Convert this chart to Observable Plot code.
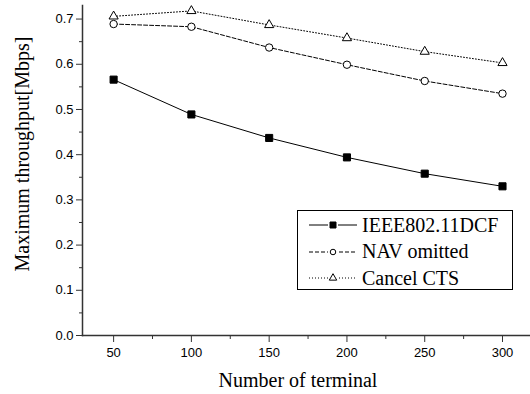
<!DOCTYPE html>
<html>
<head>
<meta charset="utf-8">
<script src="https://cdn.jsdelivr.net/npm/d3@7"></script>
<script src="https://cdn.jsdelivr.net/npm/@observablehq/plot@0.6"></script>
<style>
  html, body { margin: 0; padding: 0; background: #fff; }
  #wrap { position: relative; width: 530px; height: 394px; }
  #legend { position: absolute; left: 297px; top: 210px; width: 216px; height: 80px;
    border: 1px solid #000; background: #fff; box-sizing: border-box;
    font-family: "Liberation Serif", "Times New Roman", serif; font-size: 20px; color: #000; }
  .row { position: absolute; left: 0; height: 26px; display: flex; align-items: center; }
  .row svg { margin-left: 11px; margin-right: 5px; }
</style>
</head>
<body>
<div id="wrap"></div>
<script>
const terminals = [50, 100, 150, 200, 250, 300];
const dcf = [0.566, 0.489, 0.437, 0.394, 0.358, 0.330];
const nav = [0.689, 0.683, 0.637, 0.599, 0.563, 0.535];
const cts = [0.706, 0.718, 0.687, 0.658, 0.628, 0.603];
const seriesNames = ["IEEE802.11DCF", "NAV omitted", "Cancel CTS"];
const yTicks = [0, 0.1, 0.2, 0.3, 0.4, 0.5, 0.6, 0.7];
const yMinor = [0.05, 0.15, 0.25, 0.35, 0.45, 0.55, 0.65];
const xTicks = [50, 100, 150, 200, 250, 300];
const xMinor = [75, 125, 175, 225, 275];

const styles = [
  {dash: null, symbol: "square", fill: "#000", r: 4},
  {dash: "4,2", symbol: "circle", fill: "#fff", r: 3.7},
  {dash: "1,2", symbol: "triangle", fill: "#fff", r: 3.4}
];
const allSeries = [dcf, nav, cts];
const rows = [];
allSeries.forEach((vals, i) => vals.forEach((v, j) => rows.push({s: seriesNames[i], x: terminals[j], y: v, i})));

const sansFont = "'Liberation Sans', Arial, sans-serif";
const serifFont = "'Liberation Serif', 'Times New Roman', serif";

const marks = [
  Plot.frame({anchor: "left", stroke: "#333", strokeWidth: 1.5}),
  Plot.frame({anchor: "bottom", stroke: "#333", strokeWidth: 1.5}),
  Plot.axisY({ticks: yTicks, tickSize: 6, tickPadding: 3, tickFormat: d3.format(".1f"), label: null,
    fontSize: 13, fontFamily: sansFont, stroke: "#333", color: "#000"}),
  Plot.axisY({ticks: yMinor, tickSize: 3, text: null, label: null, stroke: "#333"}),
  Plot.axisX({ticks: xTicks, tickSize: 7, tickPadding: 5, label: null,
    fontSize: 13, fontFamily: sansFont, stroke: "#333", color: "#000"}),
  Plot.axisX({ticks: xMinor, tickSize: 4, text: null, label: null, stroke: "#333"})
];
allSeries.forEach((vals, i) => {
  const data = rows.filter(d => d.i === i);
  marks.push(Plot.line(data, {x: "x", y: "y", stroke: "#000", strokeWidth: 1, strokeDasharray: styles[i].dash}));
});
allSeries.forEach((vals, i) => {
  const data = rows.filter(d => d.i === i);
  marks.push(Plot.dot(data, {x: "x", y: "y", symbol: () => styles[i].symbol, r: styles[i].r,
    fill: styles[i].fill, stroke: "#000", strokeWidth: 1}));
});

const chart = Plot.plot({
  width: 530, height: 394,
  marginLeft: 82, marginRight: 0, marginTop: 5, marginBottom: 59,
  x: {domain: [30, 318]},
  y: {domain: [0, 0.73]},
  style: {background: "#fff"},
  marks
});
const wrap = document.getElementById("wrap");
wrap.appendChild(chart);

// axis titles
const svg = d3.select(chart);
svg.append("text").attr("x", 298).attr("y", 387).attr("text-anchor", "middle")
  .style("font-family", serifFont).style("font-size", "20px").attr("fill", "#000")
  .text("Number of terminal");
svg.append("text").attr("transform", "translate(29,154) rotate(-90)").attr("text-anchor", "middle")
  .style("font-family", serifFont).style("font-size", "20px").attr("fill", "#000")
  .text("Maximum throughput[Mbps]");

// legend
const legend = document.createElement("div");
legend.id = "legend";
wrap.appendChild(legend);
seriesNames.forEach((name, i) => {
  const row = document.createElement("div");
  row.className = "row";
  row.style.top = (1 + i * 26.7) + "px";
  const s = d3.create("svg").attr("width", 48).attr("height", 14);
  s.append("line").attr("x1", 0).attr("x2", 48).attr("y1", 7).attr("y2", 7)
    .attr("stroke", "#000").attr("stroke-width", 1).attr("stroke-dasharray", styles[i].dash);
  const sym = {square: d3.symbolSquare, circle: d3.symbolCircle, triangle: d3.symbolTriangle}[styles[i].symbol];
  const size = {square: 36, circle: 24, triangle: 24}[styles[i].symbol];
  s.append("rect").attr("x", 19).attr("y", 1).attr("width", 10).attr("height", 12).attr("fill", "#fff");
  s.append("path").attr("transform", "translate(24,7)").attr("d", d3.symbol(sym, size)())
    .attr("fill", styles[i].fill).attr("stroke", "#000").attr("stroke-width", 1);
  row.appendChild(s.node());
  const t = document.createElement("span");
  t.textContent = name;
  row.appendChild(t);
  legend.appendChild(row);
});
</script>
</body>
</html>
